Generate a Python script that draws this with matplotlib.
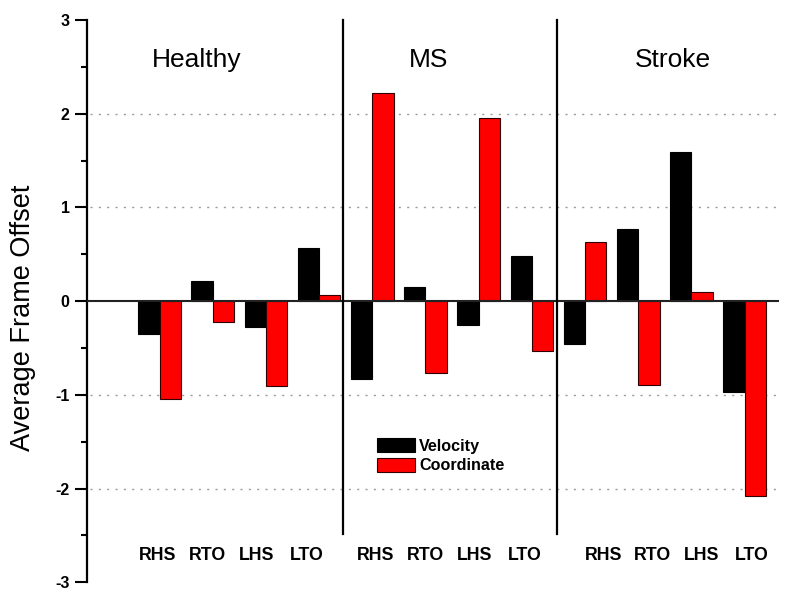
import numpy as np
import matplotlib
matplotlib.use("Agg")
import matplotlib.pyplot as plt
from matplotlib.ticker import MultipleLocator

plt.rcParams["font.family"] = ["Liberation Sans", "DejaVu Sans"]
plt.rcParams["axes.unicode_minus"] = False

# data
groups = ["Healthy", "MS", "Stroke"]
events = ["RHS", "RTO", "LHS", "LTO"]
velocity = [-0.35, 0.21, -0.28, 0.57,
            -0.83, 0.15, -0.25, 0.48,
            -0.46, 0.77, 1.59, -0.97]
coordinate = [-1.04, -0.22, -0.91, 0.07,
              2.22, -0.77, 1.95, -0.53,
              0.63, -0.89, 0.10, -2.08]

fig = plt.figure(figsize=(7.96, 5.99), dpi=100)
ax = fig.add_axes([0.1093, 0.0279, 0.8693, 0.9387])

x = np.arange(len(velocity))
w = 0.4
ax.bar(x - w / 2, velocity, w, color="black", edgecolor="black", lw=0.8,
       label="Velocity", zorder=3)
ax.bar(x + w / 2, coordinate, w, color="#ff0000", edgecolor="#300000", lw=0.8,
       label="Coordinate", zorder=3)

ax.set_xlim(-1.363, 11.645)
ax.set_ylim(-3, 3)

# dotted guides + zero line
ax.hlines([-2, -1, 1, 2], -1.3, 11.65, colors="#9a9a9a", lw=1,
          linestyles=(0, (1.5, 4.5)), zorder=1)
ax.axhline(0, color="#222222", lw=1.5, zorder=4)

# group separators
for sx in [3.45, 7.47]:
    ax.plot([sx, sx], [-2.48, 3], color="black", lw=1.6, zorder=4, clip_on=False)

# group titles
for gx, g in zip([0.70, 5.06, 9.65], groups):
    ax.text(gx, 2.57, g, ha="center", va="center", fontsize=19)

# event labels under each group
for start in [-0.03, 4.07, 8.34]:
    for j, e in enumerate(events):
        ax.text(start + 0.93 * j, -2.71, e, ha="center", va="center",
                fontsize=12.8, fontweight="bold")

for s in ["top", "right", "bottom"]:
    ax.spines[s].set_visible(False)
ax.spines["left"].set_linewidth(1.6)
ax.set_xticks([])
ax.yaxis.set_major_locator(MultipleLocator(1))
ax.yaxis.set_minor_locator(MultipleLocator(0.5))
ax.tick_params(axis="y", which="major", length=8.5, width=1.5, pad=4,
               labelsize=11.5)
ax.tick_params(axis="y", which="minor", length=4.3, width=1.5)
for lab in ax.get_yticklabels():
    lab.set_fontweight("bold")

fig.text(0.029, 1 - 318 / 599, "Average Frame Offset", rotation=90,
         ha="center", va="center", fontsize=19.5)

leg = fig.legend(loc="upper left", bbox_to_anchor=(377 / 796, 1 - 438 / 599),
                 frameon=False, borderpad=0, borderaxespad=0,
                 handlelength=2.35, handleheight=1.0, handletextpad=0.25,
                 labelspacing=0.25, prop={"size": 11.6, "weight": "bold"})

fig.savefig("out.png", dpi=100)
